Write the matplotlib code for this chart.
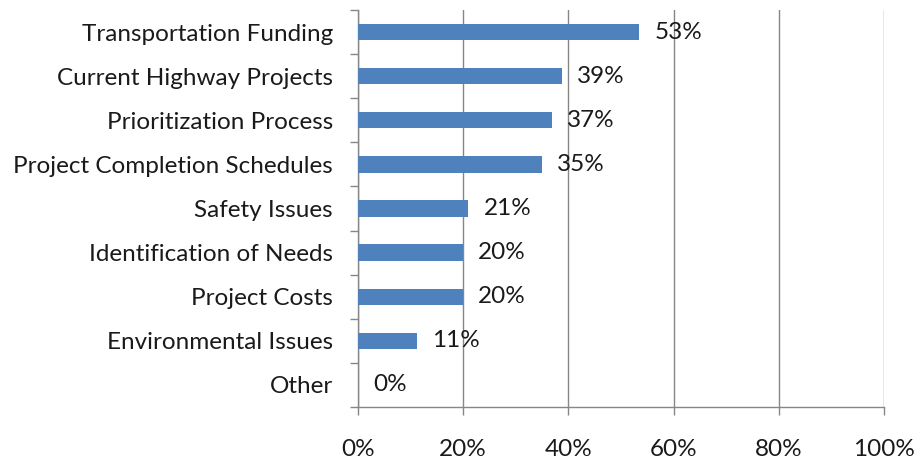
import matplotlib
matplotlib.use("Agg")
import matplotlib.pyplot as plt
from matplotlib.ticker import FixedLocator, PercentFormatter
import numpy as np

categories = ["Transportation Funding", "Current Highway Projects", "Prioritization Process",
              "Project Completion Schedules", "Safety Issues", "Identification of Needs",
              "Project Costs", "Environmental Issues", "Other"]
values = [53.5, 38.8, 36.9, 34.9, 21.0, 20.0, 20.0, 11.2, 0.0]
labels = ["53%", "39%", "37%", "35%", "21%", "20%", "20%", "11%", "0%"]
xticks = [0, 20, 40, 60, 80, 100]

plt.rcParams['font.family'] = ['Lato', 'DejaVu Sans']
FS = 17.5

fig = plt.figure(figsize=(9.16, 4.62), dpi=100)
ax = fig.add_axes([358/916, 1-407/462, (884-358)/916, (407-10)/462])

y = np.arange(len(categories))
ax.barh(y, values, height=0.37, color="#4F81BD", zorder=3)
for yi, v, lab in zip(y, values, labels):
    ax.annotate(lab, (v, yi), xytext=(15, 0), textcoords="offset pixels",
                va="center", ha="left", fontsize=FS, color="#1a1a1a", zorder=4)

ax.set_xlim(0, 100)
ax.set_ylim(len(categories) - 0.5, -0.5)
ax.xaxis.set_major_locator(FixedLocator(xticks))
ax.xaxis.set_major_formatter(PercentFormatter(decimals=0))
ax.set_yticks(y)
ax.set_yticklabels(categories)
ax.yaxis.set_minor_locator(FixedLocator(np.arange(-0.5, len(categories), 1.0)))
ax.tick_params(axis="y", which="major", length=0, pad=18, labelsize=FS, labelcolor="#1a1a1a")
ax.tick_params(axis="y", which="minor", length=6, color="#868686", width=1)
ax.tick_params(axis="x", which="major", length=6, color="#868686", width=1, pad=17,
               labelsize=FS, labelcolor="#1a1a1a")
ax.grid(axis="x", color="#868686", linewidth=1, zorder=0)
for s in ["top", "right"]:
    ax.spines[s].set_visible(False)
for s in ["left", "bottom"]:
    ax.spines[s].set_color("#868686")
    ax.spines[s].set_linewidth(1)

fig.savefig("out.png", dpi=100, facecolor="white")
